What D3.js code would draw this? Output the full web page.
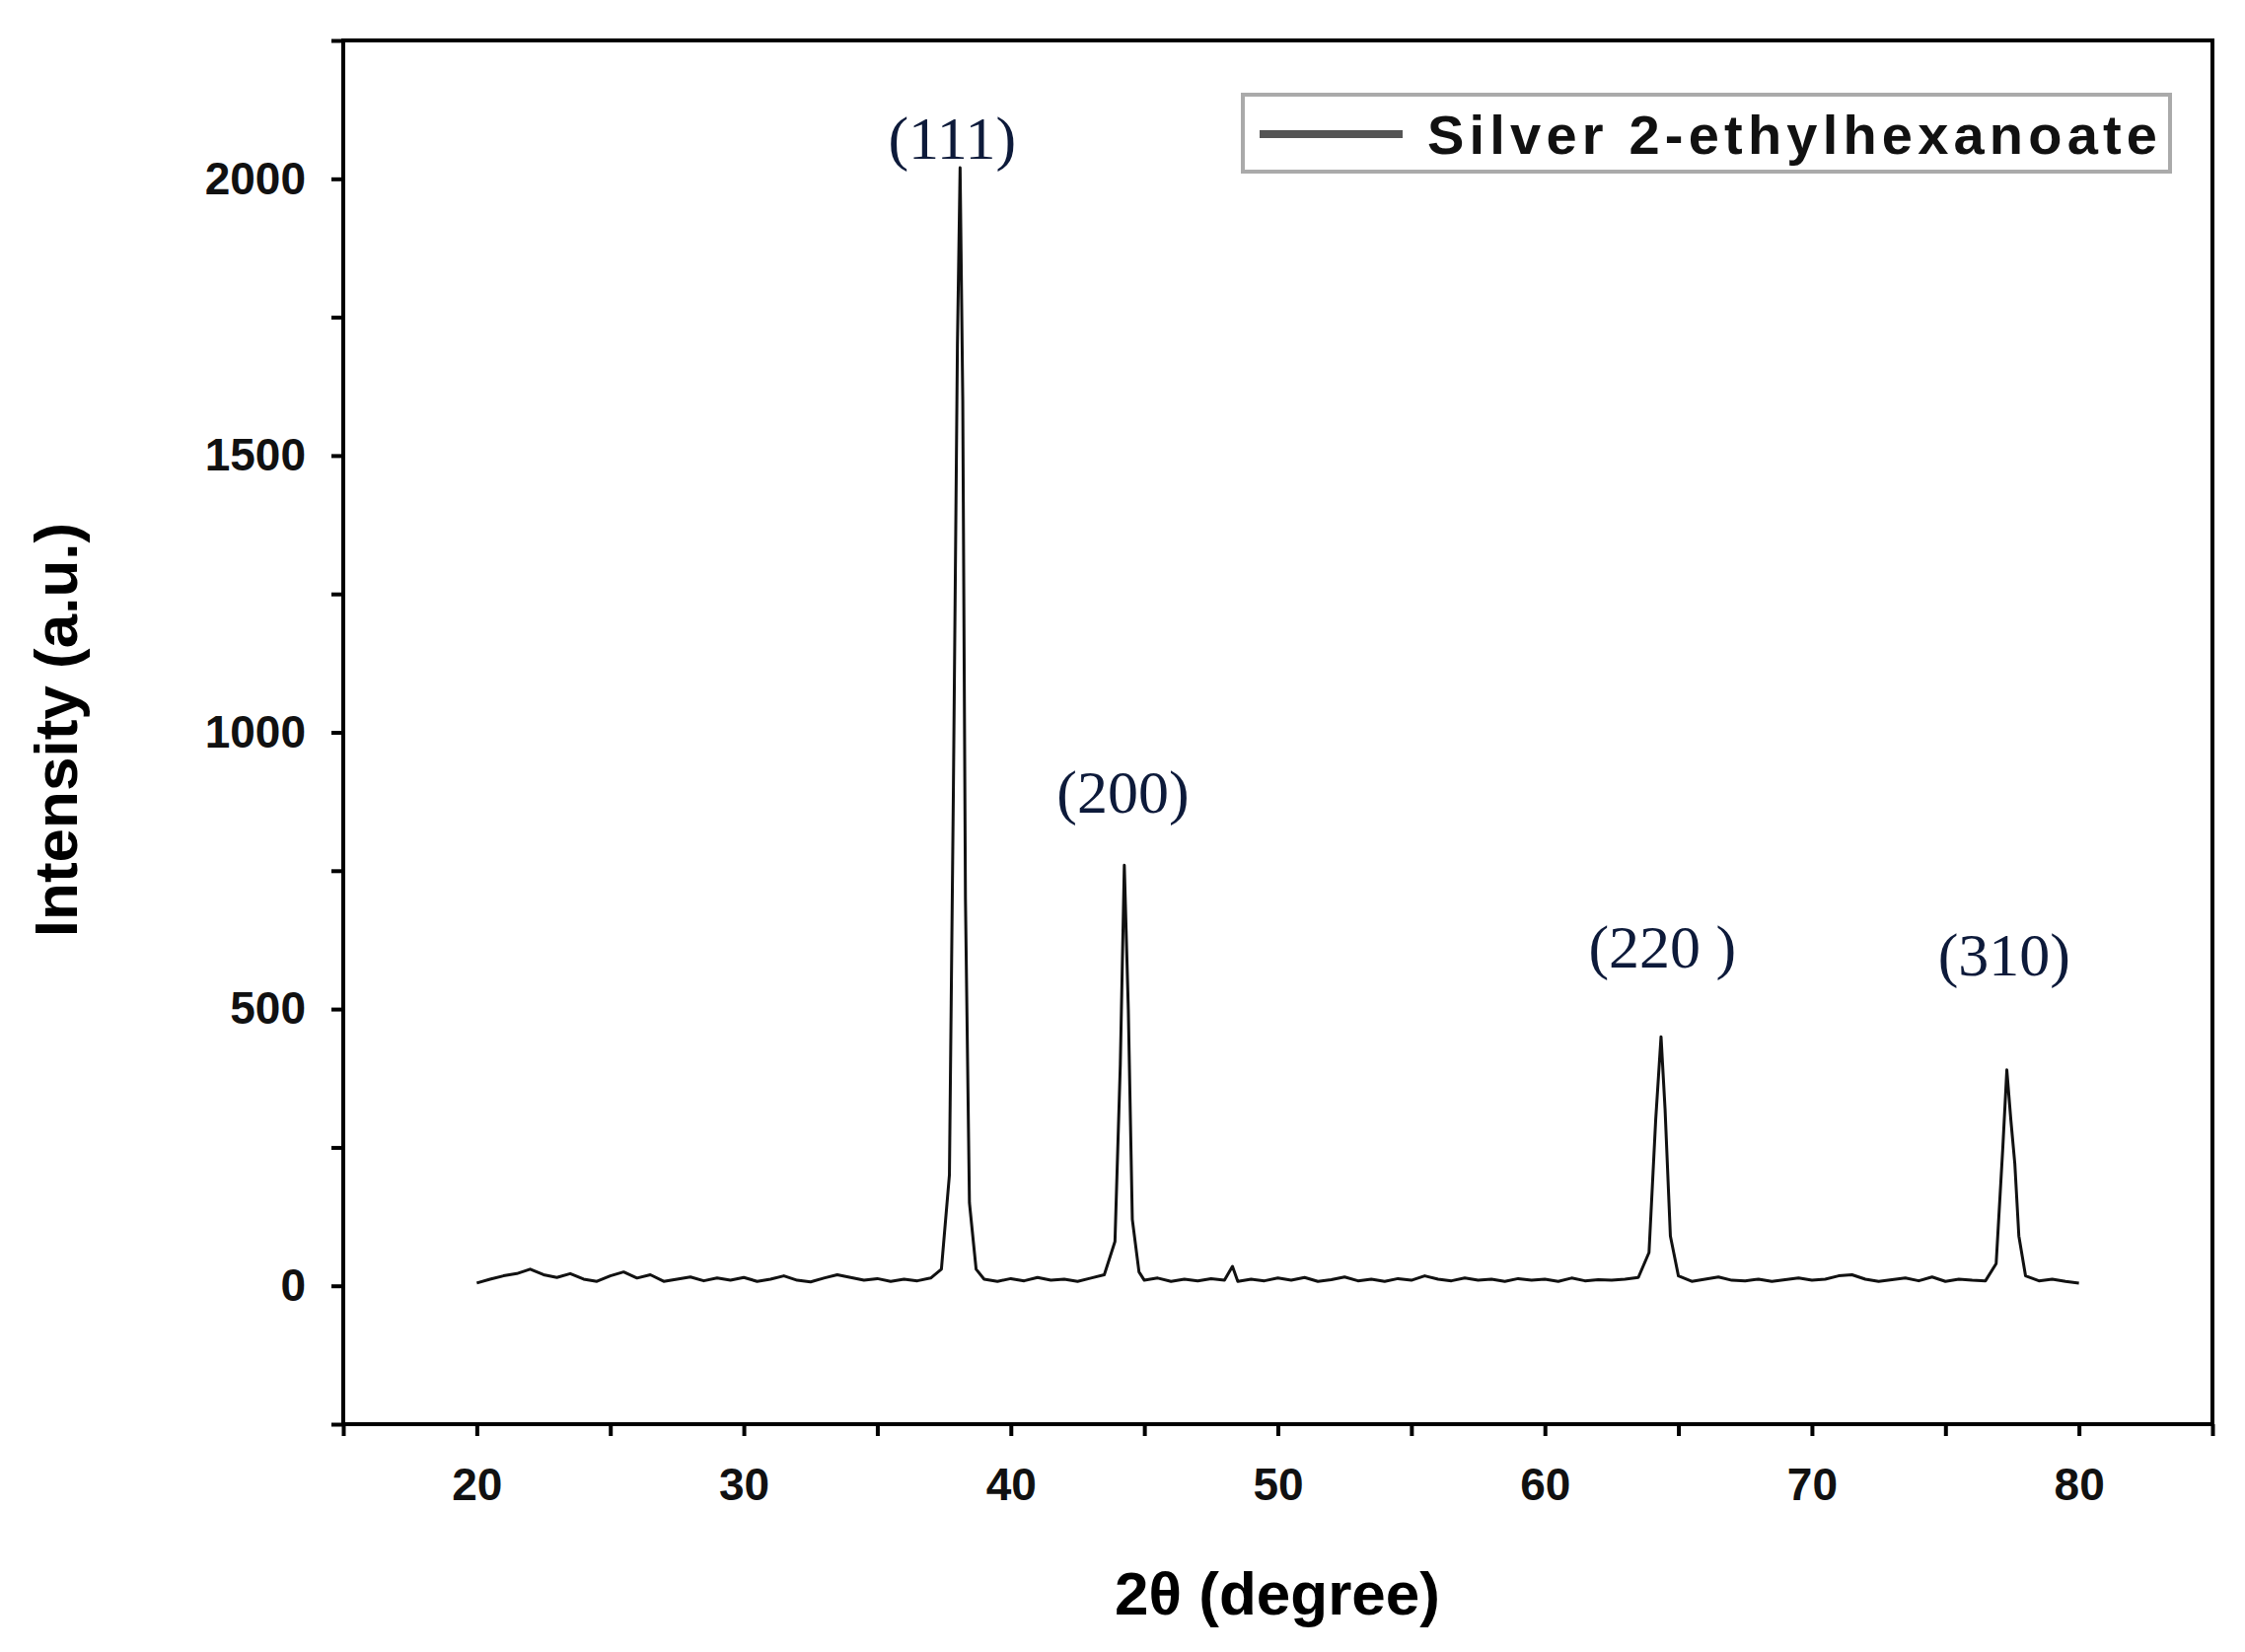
<!DOCTYPE html>
<html lang="en">
<head>
<meta charset="UTF-8">
<title>XRD - Silver 2-ethylhexanoate</title>
<script src="https://d3js.org/d3.v7.min.js"></script>
<style>
  body { margin: 0; background: #fff; }
</style>
</head>
<body>
<svg id="chart" width="2276" height="1675"></svg>
<script>
// diffraction pattern: [2theta, intensity]
const pattern = [
  [20,5],[20.5,12],[21,18],[21.5,22],[22,30],[22.5,20],[23,15],[23.5,22],[24,12],[24.5,8],
  [25,18],[25.5,25],[26,14],[26.5,20],[27,8],[27.5,12],[28,16],[28.5,9],[29,14],[29.5,10],
  [30,15],[30.5,8],[31,12],[31.5,18],[32,10],[32.5,7],[33,14],[33.5,20],[34,15],[34.5,10],
  [35,13],[35.5,8],[36,12],[36.5,9],[37,14],[37.4,30],[37.7,200],[37.85,900],[38.0,1700],[38.1,2020],
  [38.2,1600],[38.3,700],[38.45,150],[38.7,30],[39,12],[39.5,8],[40,13],[40.5,9],[41,15],[41.5,10],
  [42,12],[42.5,8],[43,14],[43.5,20],[43.9,80],[44.1,400],[44.25,760],[44.4,500],[44.55,120],[44.8,25],
  [45,10],[45.5,14],[46,8],[46.5,12],[47,9],[47.5,13],[48,10],[48.3,35],[48.5,8],[49,12],
  [49.5,9],[50,14],[50.5,10],[51,15],[51.5,8],[52,11],[52.5,16],[53,9],[53.5,12],[54,8],
  [54.5,13],[55,10],[55.5,18],[56,12],[56.5,9],[57,14],[57.5,10],[58,12],[58.5,8],[59,13],
  [59.5,10],[60,12],[60.5,8],[61,14],[61.5,9],[62,11],[62.5,10],[63,12],[63.5,15],[63.9,60],
  [64.15,300],[64.35,450],[64.5,320],[64.7,90],[65,18],[65.5,8],[66,12],[66.5,16],[67,10],[67.5,9],
  [68,12],[68.5,8],[69,11],[69.5,14],[70,10],[70.5,12],[71,18],[71.5,20],[72,12],[72.5,8],
  [73,11],[73.5,14],[74,9],[74.5,16],[75,8],[75.5,12],[76,10],[76.5,9],[76.9,40],[77.15,250],
  [77.3,390],[77.45,300],[77.6,220],[77.75,90],[78,18],[78.5,9],[79,12],[79.5,8],[80,5]
];
const peakLabels = [
  { hkl: "(111)", x: 37.8, y: 2000 },
  { hkl: "(200)", x: 44.2, y: 820 },
  { hkl: "(220 )", x: 64.4, y: 540 },
  { hkl: "(310)", x: 77.2, y: 525 }
];
const xTicks = [20, 30, 40, 50, 60, 70, 80];
const yTicks = [0, 500, 1000, 1500, 2000];
const legendLabel = "Silver 2-ethylhexanoate";

const sans = "'Liberation Sans', Arial, sans-serif";
const svg = d3.select("#chart");
const L = 348, R = 2243, T = 41, B = 1444;

const x = d3.scaleLinear().domain([15, 85]).range([L, R]);
const y = d3.scaleLinear().domain([-250, 2250]).range([B, T]);

// frame
svg.append("rect").attr("x", L).attr("y", T).attr("width", R - L).attr("height", B - T)
  .attr("fill", "none").attr("stroke", "#000").attr("stroke-width", 4);

// x axis
const xAxis = svg.append("g").attr("transform", `translate(0,${B})`)
  .call(d3.axisBottom(x).tickValues(d3.range(15, 86, 5)).tickSize(12).tickFormat(d => xTicks.includes(d) ? d : ""));
// y axis
const yAxis = svg.append("g").attr("transform", `translate(${L},0)`)
  .call(d3.axisLeft(y).tickValues(d3.range(-250, 2251, 250)).tickSize(12).tickFormat(d => yTicks.includes(d) ? d : ""));
[xAxis, yAxis].forEach(g => {
  g.select(".domain").remove();
  g.selectAll("line").attr("stroke", "#000").attr("stroke-width", 4);
  g.selectAll("text").attr("font-size", 46).attr("font-weight", "bold").attr("fill", "#111")
    .attr("font-family", sans);
});
xAxis.selectAll("text").attr("dy", "1.35em");
yAxis.selectAll("text").attr("dx", "-0.5em");

// axis titles
svg.append("text").attr("x", 1295).attr("y", 1637).attr("text-anchor", "middle")
  .attr("font-family", sans).attr("font-size", 62).attr("font-weight", "bold").text("2θ (degree)");
svg.append("text").attr("transform", `translate(78,740) rotate(-90)`)
  .attr("text-anchor", "middle").attr("font-family", sans)
  .attr("font-size", 62).attr("font-weight", "bold").text("Intensity (a.u.)");

// pattern
svg.append("path").datum(pattern)
  .attr("d", d3.line().x(d => x(d[0])).y(d => y(d[1])))
  .attr("fill", "none").attr("stroke", "#111").attr("stroke-width", 3).attr("stroke-linejoin", "round");

// peak labels
svg.selectAll(".hkl").data(peakLabels).enter().append("text")
  .attr("class", "hkl")
  .attr("x", d => x(d.x)).attr("y", d => y(d.y) - 20)
  .attr("text-anchor", "middle")
  .attr("font-family", "'Liberation Serif', 'DejaVu Serif', serif")
  .attr("font-size", 62).attr("fill", "#0d1a3a")
  .text(d => d.hkl);

// legend
const lg = svg.append("g").attr("transform", "translate(1260,96)");
lg.append("rect").attr("width", 940).attr("height", 78).attr("fill", "#fff")
  .attr("stroke", "#aaa").attr("stroke-width", 4);
lg.append("line").attr("x1", 17).attr("x2", 162).attr("y1", 40).attr("y2", 40)
  .attr("stroke", "#555").attr("stroke-width", 8);
lg.append("text").attr("x", 187).attr("y", 60).attr("font-family", sans)
  .attr("font-size", 56).attr("font-weight", "bold").attr("textLength", 740)
  .attr("fill", "#111").text(legendLabel);
</script>
</body>
</html>
